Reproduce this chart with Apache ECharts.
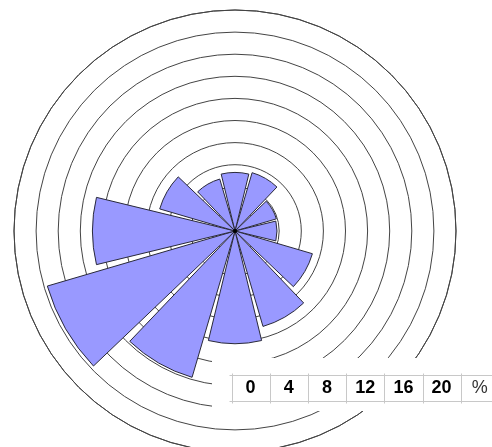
<!DOCTYPE html>
<html>
<head>
<meta charset="utf-8">
<script src="https://cdn.jsdelivr.net/npm/echarts@6/dist/echarts.min.js"></script>
<style>
html,body{margin:0;padding:0;background:#fff;}
#c{width:492px;height:447px;}
</style>
</head>
<body>
<div id="c"></div>
<script>
// Wind directions (12 sectors of 30°, clockwise from north)
var directions = ['N', '30°', '60°', 'E', '120°', '150°', 'S', '210°', '240°', 'W', '300°', '330°'];
// Frequency in %
var frequency = [5.3, 5.5, 3.9, 3.8, 7.3, 9.0, 10.2, 13.8, 17.7, 12.9, 7.1, 4.9];
// Scale legend labels
var scaleLabels = ['0', '4', '8', '12', '16', '20', '%'];

var cx = 235, cy = 231, R = 221;

var graphics = [];
// white box hiding the rings under the scale legend
graphics.push({type: 'rect', shape: {x: 212, y: 358, width: 290, height: 53}, style: {fill: '#fff'}, z: 100});
// table lines
var lineColor = '#c8c8c8';
var x0 = 231.5, cw = 38.2, yTop = 375.5, yBot = 401.5;
graphics.push({type: 'line', shape: {x1: x0 - 2, y1: yTop, x2: 492, y2: yTop}, style: {stroke: lineColor, lineWidth: 1}, z: 101});
graphics.push({type: 'line', shape: {x1: x0 - 2, y1: yBot, x2: 492, y2: yBot}, style: {stroke: lineColor, lineWidth: 1}, z: 101});
for (var i = 0; i < scaleLabels.length; i++) {
  var xl = Math.round(x0 + i * cw) + 0.5;
  graphics.push({type: 'line', shape: {x1: xl, y1: yTop - 2, x2: xl, y2: yBot + 2}, style: {stroke: lineColor, lineWidth: 1}, z: 101});
  var isPct = scaleLabels[i] === '%';
  graphics.push({type: 'text', x: x0 + i * cw + cw / 2, y: 388.5,
    style: {text: scaleLabels[i], fill: isPct ? '#333' : '#000', font: (isPct ? 'normal ' : 'bold ') + '18px "Liberation Sans", Arial, sans-serif',
      align: 'center', verticalAlign: 'middle'}, z: 102});
}
// center dot
graphics.push({type: 'circle', shape: {cx: cx, cy: cy, r: 2}, style: {fill: '#000'}, z: 50});

var chart = echarts.init(document.getElementById('c'));
chart.setOption({
  animation: false,
  backgroundColor: '#fff',
  polar: {center: [cx, cy], radius: R},
  angleAxis: {
    type: 'category',
    data: directions,
    startAngle: 105,
    clockwise: true,
    boundaryGap: true,
    axisLine: {show: true, lineStyle: {color: '#444', width: 1}},
    axisTick: {show: false},
    axisLabel: {show: false},
    splitLine: {show: false}
  },
  radiusAxis: {
    type: 'value',
    min: 0, max: 20, interval: 2,
    axisLine: {show: false},
    axisTick: {show: false},
    axisLabel: {show: false},
    splitLine: {show: true, lineStyle: {color: '#444', width: 1}}
  },
  series: [{
    type: 'bar',
    coordinateSystem: 'polar',
    data: frequency,
    barCategoryGap: '9%',
    itemStyle: {color: '#9999ff', borderColor: '#2a2a3a', borderWidth: 1},
    z: 10
  }],
  graphic: graphics
});
</script>
</body>
</html>
